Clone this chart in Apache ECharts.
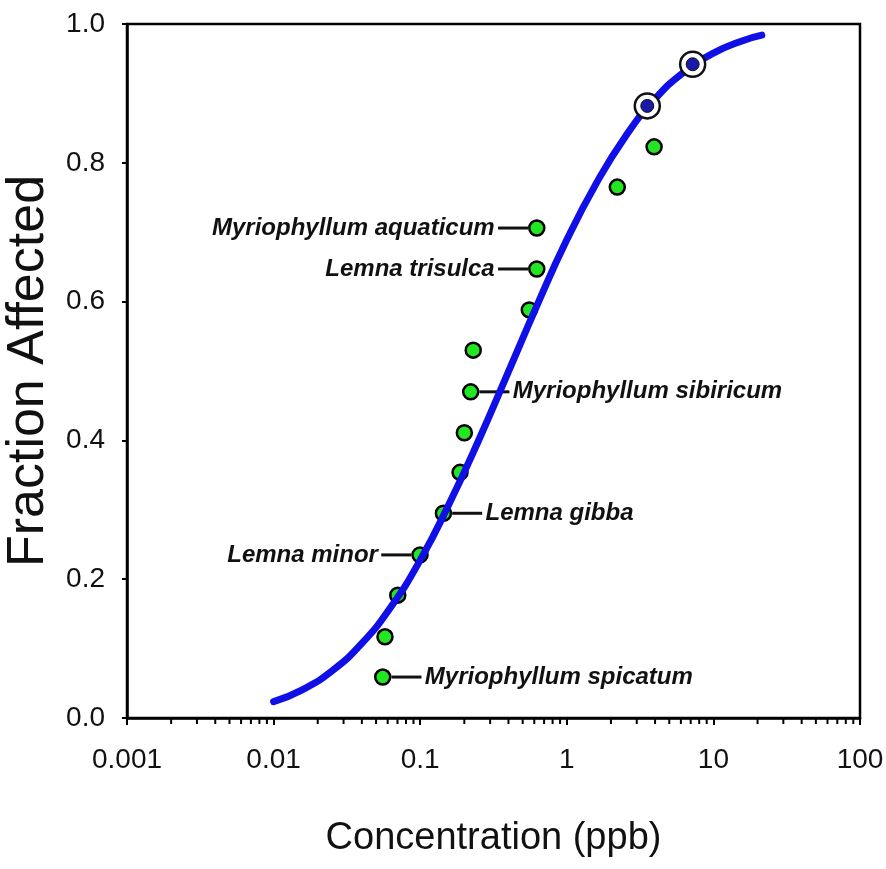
<!DOCTYPE html>
<html lang="en">
<head>
    <meta charset="UTF-8">
    <title>Fraction Affected</title>
    <style>
        body { margin: 0; background: #fff; }
        #main { width: 886px; height: 869px; }
    </style>
</head>
<body>
    <div id="main"></div>
    <script src="https://cdn.jsdelivr.net/npm/echarts@6.0.0/dist/echarts.min.js"></script>
    <script>
        // axis labels
        const xTickLabels = ['0.001', '0.01', '0.1', '1', '10', '100'];
        const yTickLabels = ['0.0', '0.2', '0.4', '0.6', '0.8', '1.0'];

        // species points (green)
        const speciesConc = [0.0555, 0.0575, 0.0703, 0.0997, 0.144, 0.187, 0.200, 0.221, 0.230, 0.555, 0.624, 0.624, 2.21, 3.94];
        const speciesFrac = [0.059, 0.117, 0.177, 0.235, 0.295, 0.354, 0.411, 0.470, 0.530, 0.588, 0.647, 0.706, 0.765, 0.823];
        const speciesName = ['Myriophyllum spicatum', '', '', 'Lemna minor', 'Lemna gibba', '', '', 'Myriophyllum sibiricum', '', '', 'Lemna trisulca', 'Myriophyllum aquaticum', '', ''];

        // circled points
        const circledConc = [3.54, 7.22];
        const circledFrac = [0.882, 0.942];

        // fitted curve
        const curveConc = [0.01, 0.0158, 0.0251, 0.0398, 0.0631, 0.1, 0.158, 0.251, 0.398, 0.631, 1, 1.585, 2.512, 3.981, 6.31, 10, 15.85, 21.4];
        const curveFrac = [0.0235, 0.041, 0.068, 0.107, 0.160, 0.2275, 0.309, 0.4005, 0.498, 0.596, 0.689, 0.770, 0.838, 0.8916, 0.931, 0.958, 0.976, 0.984];

        const font = "'Liberation Sans', Arial, sans-serif";
        const leftSide = ['Lemna minor', 'Lemna trisulca', 'Myriophyllum aquaticum'];

        // log minor ticks 2..9 in each decade
        const minorTicks = [];
        for (let e = -3; e < 2; e++) {
            for (let m = 2; m <= 9; m++) minorTicks.push([m * Math.pow(10, e), 0]);
        }

        const speciesData = speciesConc.map((c, i) => {
            const name = speciesName[i];
            const item = { value: [c, speciesFrac[i]] };
            if (name) {
                const left = leftSide.indexOf(name) >= 0;
                item.label = {
                    show: true,
                    position: left ? 'left' : 'right',
                    distance: 0,
                    formatter: left ? '{t|' + name + '} {ln|}' : '{ln|} {t|' + name + '}'
                };
            }
            return item;
        });

        const myChart = echarts.init(document.getElementById('main'));
        const option = {
            animation: false,
            backgroundColor: '#fff',
            grid: {
                left: 127, right: 26, top: 24, bottom: 151,
                outerBoundsMode: 'none',
                containLabel: false,
                show: true, borderColor: '#000', borderWidth: 2.5
            },
            xAxis: {
                type: 'log',
                logBase: 10,
                min: 0.001,
                max: 100,
                splitNumber: 5,
                name: 'Concentration (ppb)',
                nameLocation: 'middle',
                nameGap: 102,
                nameTextStyle: { fontFamily: font, fontSize: 38, color: '#111' },
                axisLine: { show: true, lineStyle: { color: '#000', width: 2.5 } },
                axisTick: { show: true, length: 7, lineStyle: { color: '#000', width: 2 } },
                axisLabel: {
                    fontFamily: font, fontSize: 28, color: '#111', margin: 28,
                    formatter: v => xTickLabels[Math.round(Math.log10(v)) + 3]
                },
                splitLine: { show: false }
            },
            yAxis: {
                type: 'value',
                min: 0,
                max: 1,
                interval: 0.2,
                name: 'Fraction Affected',
                nameLocation: 'middle',
                nameGap: 72,
                nameTextStyle: { fontFamily: font, fontSize: 52, color: '#111' },
                axisLine: { show: true, lineStyle: { color: '#000', width: 2.5 } },
                axisTick: { show: true, length: 5, lineStyle: { color: '#000', width: 2 } },
                axisLabel: {
                    fontFamily: font, fontSize: 28, color: '#111', margin: 22,
                    formatter: v => yTickLabels[Math.round(v / 0.2)]
                },
                splitLine: { show: false }
            },
            series: [
                {
                    type: 'scatter',
                    data: speciesData,
                    symbolSize: 15,
                    z: 2,
                    itemStyle: { color: '#22e622', borderColor: '#000', borderWidth: 2.5, opacity: 1 },
                    label: {
                        rich: {
                            t: { fontFamily: font, fontWeight: 'bold', fontStyle: 'italic', fontSize: 24, color: '#111' },
                            ln: { width: 30, height: 3, backgroundColor: '#111' }
                        }
                    }
                },
                {
                    type: 'line',
                    data: curveConc.map((c, i) => [c, curveFrac[i]]),
                    smooth: true,
                    showSymbol: false,
                    z: 3,
                    lineStyle: { color: '#1010e6', width: 7, cap: 'round' }
                },
                {
                    type: 'scatter',
                    data: circledConc.map((c, i) => [c, circledFrac[i]]),
                    symbolSize: 25,
                    z: 4,
                    itemStyle: { color: '#fff', borderColor: '#111', borderWidth: 2.5, opacity: 1 }
                },
                {
                    type: 'scatter',
                    data: circledConc.map((c, i) => [c, circledFrac[i]]),
                    symbolSize: 13,
                    z: 5,
                    itemStyle: { color: '#1a1aa8', borderColor: '#111', borderWidth: 1, opacity: 1 }
                },
                {
                    type: 'scatter',
                    data: minorTicks,
                    symbol: 'rect',
                    symbolSize: [2, 5],
                    symbolOffset: [0, 3.5],
                    clip: false,
                    silent: true,
                    z: 6,
                    itemStyle: { color: '#000', opacity: 1 }
                }
            ]
        };
        myChart.setOption(option);
    </script>
</body>
</html>
